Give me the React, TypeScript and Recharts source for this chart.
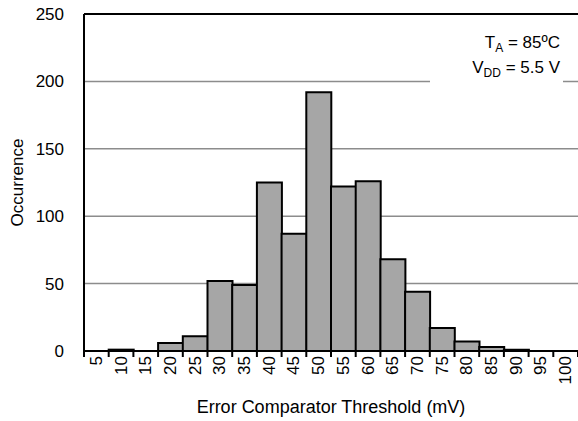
import { BarChart, Bar, XAxis, YAxis, CartesianGrid, ReferenceLine } from "recharts";

const bins = ["5", "10", "15", "20", "25", "30", "35", "40", "45", "50", "55", "60", "65", "70", "75", "80", "85", "90", "95", "100"];
const counts = [0, 1, 0, 6, 11, 52, 49, 125, 87, 192, 122, 126, 68, 44, 17, 7, 3, 1, 0, 0];
const yTicks = [0, 50, 100, 150, 200, 250];

const data = bins.map((b, i) => ({ bin: b, count: counts[i] }));

const FONT = "'Liberation Sans', Arial, Helvetica, sans-serif";

const BinTick = (props: any) => {
    const { x, y, payload, width, visibleTicksCount, index } = props;
    const step = width / visibleTicksCount;
    const left = x - step / 2;
    return (
        <g>
            <line x1={left} y1={y} x2={left} y2={y + 6} stroke="#000" strokeWidth={2} />
            {index === visibleTicksCount - 1 && (
                <line x1={left + step} y1={y} x2={left + step} y2={y + 6} stroke="#000" strokeWidth={2} />
            )}
            <text
                x={x}
                y={y + 5}
                transform={`rotate(-90, ${x}, ${y + 5})`}
                textAnchor="end"
                dominantBaseline="central"
                fontSize={17}
                fontFamily={FONT}
                fill="#000"
            >
                {payload.value}
            </text>
        </g>
    );
};

const subStyle = { fontSize: 12, verticalAlign: "baseline", position: "relative" as const, top: 4 };

const App = () => {
    return (
        <div style={{ position: "absolute", left: 0, top: 0, width: 578, height: 421, background: "#fff" }}>
            <BarChart
                width={578}
                height={421}
                data={data}
                barCategoryGap={0}
                margin={{ top: 14, right: 0, left: 0, bottom: 0 }}
            >
                <CartesianGrid vertical={false} stroke="#8c8c8c" strokeWidth={1.5} />
                <XAxis
                    dataKey="bin"
                    height={70}
                    interval={0}
                    tickSize={0}
                    tickMargin={0}
                    tickLine={false}
                    axisLine={{ stroke: "#000", strokeWidth: 2 }}
                    tick={<BinTick />}
                    label={{
                        value: "Error Comparator Threshold (mV)",
                        position: "insideBottom",
                        offset: 8,
                        style: { fontSize: 18, fontFamily: FONT, fill: "#000" }
                    }}
                />
                <YAxis
                    width={84}
                    domain={[0, 250]}
                    ticks={yTicks}
                    interval={0}
                    tickLine={false}
                    tickMargin={14}
                    axisLine={{ stroke: "#000", strokeWidth: 2 }}
                    tick={{ fontSize: 17, fontFamily: FONT, fill: "#000" }}
                    label={{
                        value: "Occurrence",
                        angle: -90,
                        position: "insideLeft",
                        offset: 17,
                        style: { textAnchor: "middle", fontSize: 17, fontFamily: FONT, fill: "#000" }
                    }}
                />
                <ReferenceLine y={250} stroke="#000" strokeWidth={2} />
                <Bar dataKey="count" fill="#a6a6a6" stroke="#000" strokeWidth={2} isAnimationActive={false} />
            </BarChart>
            <div
                style={{
                    position: "absolute",
                    top: 31,
                    left: 430,
                    width: 133,
                    height: 56,
                    boxSizing: "border-box",
                    paddingRight: 3,
                    background: "#fff",
                    textAlign: "right",
                    fontFamily: FONT,
                    fontSize: 17,
                    lineHeight: "23px",
                    color: "#000"
                }}
            >
                <div>
                    T<span style={subStyle}>A</span> = 85ºC
                </div>
                <div>
                    V<span style={subStyle}>DD</span> = 5.5 V
                </div>
            </div>
        </div>
    );
};

export default App;
